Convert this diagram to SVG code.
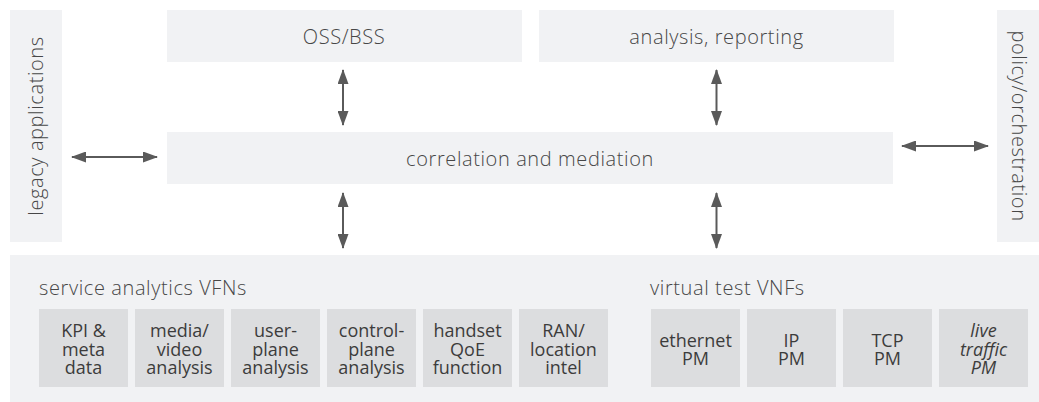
<svg xmlns="http://www.w3.org/2000/svg" width="1039" height="402" viewBox="0 0 1039 402">
<defs>
<style>
.bg{fill:#ffffff}
.box{fill:#f1f2f4}
.cell{fill:#dcdddf}
text{font-family:"Open Sans","Liberation Sans",sans-serif;font-weight:300;font-size:20px;letter-spacing:0.6px;fill:#474747}
.c{text-anchor:middle}
.cellt{font-weight:400;font-size:18px;letter-spacing:0;fill:#3c3c3c;text-anchor:middle}
.it{font-style:italic}
.conn{stroke:#5a5a5a;stroke-width:2;fill:none;marker-start:url(#ah);marker-end:url(#ah)}
</style>
<marker id="ah" viewBox="0 0 15 11" refX="14" refY="5.5" markerWidth="15" markerHeight="11" markerUnits="userSpaceOnUse" orient="auto-start-reverse">
<path d="M0,0 L15,5.5 L0,11 Z" fill="#5a5a5a"/>
</marker>
</defs>
<rect class="bg" x="0" y="0" width="1039" height="402"/>

<g id="legacy">
<rect class="box" x="10" y="10" width="52" height="232"/>
<text class="c" transform="translate(43,126) rotate(-90)">legacy applications</text>
</g>
<g id="policy">
<rect class="box" x="997" y="10" width="42" height="232"/>
<text class="c" transform="translate(1012,126) rotate(90)">policy/orchestration</text>
</g>
<g id="oss">
<rect class="box" x="167" y="10" width="355" height="52"/>
<text class="c" x="344" y="44">OSS/BSS</text>
</g>
<g id="analysis">
<rect class="box" x="539" y="10" width="355" height="52"/>
<text class="c" x="716.5" y="44">analysis, reporting</text>
</g>
<g id="correlation">
<rect class="box" x="167" y="132" width="726" height="52"/>
<text class="c" x="530" y="166">correlation and mediation</text>
</g>

<g id="bottom">
<rect class="box" x="10" y="255" width="1029" height="147"/>
<text x="39" y="295">service analytics VFNs</text>
<text x="650" y="295">virtual test VNFs</text>
</g>
<g id="kpi">
<rect class="cell" x="39" y="309" width="89" height="78"/>
<text class="cellt"><tspan x="83.5" y="337">KPI &amp;</tspan><tspan x="83.5" y="355.5">meta</tspan><tspan x="83.5" y="374">data</tspan></text>
</g>
<g id="media">
<rect class="cell" x="135" y="309" width="89" height="78"/>
<text class="cellt"><tspan x="179.5" y="337">media/</tspan><tspan x="179.5" y="355.5">video</tspan><tspan x="179.5" y="374">analysis</tspan></text>
</g>
<g id="userplane">
<rect class="cell" x="231" y="309" width="89" height="78"/>
<text class="cellt"><tspan x="275.5" y="337">user-</tspan><tspan x="275.5" y="355.5">plane</tspan><tspan x="275.5" y="374">analysis</tspan></text>
</g>
<g id="controlplane">
<rect class="cell" x="327" y="309" width="89" height="78"/>
<text class="cellt"><tspan x="371.5" y="337">control-</tspan><tspan x="371.5" y="355.5">plane</tspan><tspan x="371.5" y="374">analysis</tspan></text>
</g>
<g id="handset">
<rect class="cell" x="423" y="309" width="89" height="78"/>
<text class="cellt"><tspan x="467.5" y="337">handset</tspan><tspan x="467.5" y="355.5">QoE</tspan><tspan x="467.5" y="374">function</tspan></text>
</g>
<g id="ran">
<rect class="cell" x="519" y="309" width="89" height="78"/>
<text class="cellt"><tspan x="563.5" y="337">RAN/</tspan><tspan x="563.5" y="355.5">location</tspan><tspan x="563.5" y="374">intel</tspan></text>
</g>
<g id="ethernet">
<rect class="cell" x="651" y="309" width="89" height="78"/>
<text class="cellt"><tspan x="695.5" y="346.5">ethernet</tspan><tspan x="695.5" y="365">PM</tspan></text>
</g>
<g id="ip">
<rect class="cell" x="747" y="309" width="89" height="78"/>
<text class="cellt"><tspan x="791.5" y="346.5">IP</tspan><tspan x="791.5" y="365">PM</tspan></text>
</g>
<g id="tcp">
<rect class="cell" x="843" y="309" width="89" height="78"/>
<text class="cellt"><tspan x="887.5" y="346.5">TCP</tspan><tspan x="887.5" y="365">PM</tspan></text>
</g>
<g id="live">
<rect class="cell" x="939" y="309" width="89" height="78"/>
<text class="cellt it"><tspan x="983.5" y="337">live</tspan><tspan x="983.5" y="355.5">traffic</tspan><tspan x="983.5" y="374">PM</tspan></text>
</g>

<g id="connectors">
<line class="conn" x1="343" y1="70" x2="343" y2="125"/>
<line class="conn" x1="716.5" y1="70" x2="716.5" y2="125"/>
<line class="conn" x1="343" y1="193" x2="343" y2="248"/>
<line class="conn" x1="716.5" y1="193" x2="716.5" y2="248"/>
<line class="conn" x1="72" y1="157" x2="157" y2="157"/>
<line class="conn" x1="902" y1="146" x2="988" y2="146"/>
</g>
</svg>
